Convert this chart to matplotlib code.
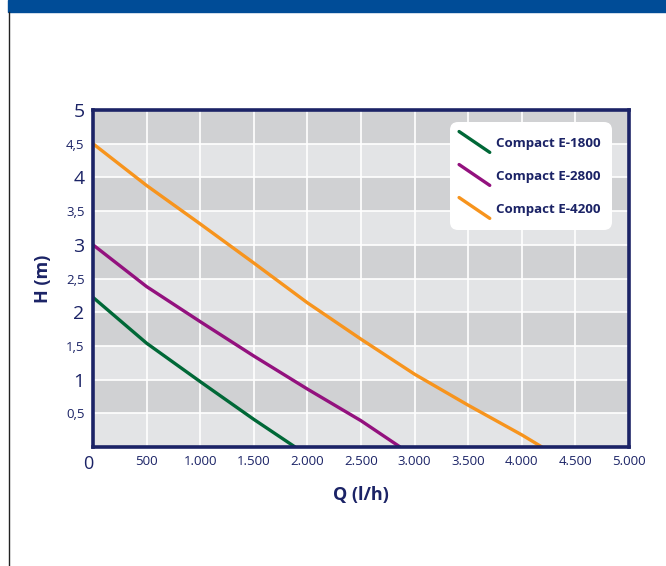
import matplotlib
matplotlib.use("Agg")
import matplotlib.pyplot as plt
from matplotlib.legend_handler import HandlerLine2D
from matplotlib.patches import Rectangle, FancyBboxPatch
from matplotlib.lines import Line2D

plt.rcParams["font.family"] = ["Open Sans", "DejaVu Sans"]

NAVY = "#1b2366"
BLUE_BAR = "#004c97"

# pump curves (Q in l/h, H in m)
q_1800 = [0, 500, 1000, 1500, 1885]
h_1800 = [2.22, 1.54, 0.97, 0.41, 0.0]

q_2800 = [0, 500, 1000, 1500, 2000, 2500, 2865]
h_2800 = [3.0, 2.38, 1.86, 1.35, 0.86, 0.39, 0.0]

q_4200 = [0, 500, 1000, 1500, 2000, 2500, 3000, 3500, 4000, 4188]
h_4200 = [4.5, 3.88, 3.31, 2.73, 2.14, 1.60, 1.08, 0.62, 0.18, 0.0]

labels = ["Compact E-1800", "Compact E-2800", "Compact E-4200"]
colors = ["#006837", "#93117e", "#f7941d"]

x_ticks = [0, 500, 1000, 1500, 2000, 2500, 3000, 3500, 4000, 4500, 5000]
x_tick_labels = ["0", "500", "1.000", "1.500", "2.000", "2.500", "3.000",
                 "3.500", "4.000", "4.500", "5.000"]
y_ticks = [0.5, 1, 1.5, 2, 2.5, 3, 3.5, 4, 4.5, 5]
y_tick_labels = ["0,5", "1", "1,5", "2", "2,5", "3", "3,5", "4", "4,5", "5"]


class DiagonalHandler(HandlerLine2D):
    def create_artists(self, legend, orig_handle, xdescent, ydescent,
                       width, height, fontsize, trans):
        line = Line2D([0, width], [height / 2 + 7.5, height / 2 - 7.5],
                      color=orig_handle.get_color(), lw=orig_handle.get_linewidth(),
                      solid_capstyle="round", transform=trans)
        return [line]


fig = plt.figure(figsize=(6.66, 5.66), dpi=100)

# header bar and left rule
fig.patches.append(Rectangle((8 / 666, 1 - 12 / 566), 1, 12 / 566,
                             transform=fig.transFigure, color=BLUE_BAR))
fig.lines.append(Line2D([8.5 / 666, 8.5 / 666], [0, 1 - 12 / 566],
                        transform=fig.transFigure, color="#222222", lw=1))

ax = fig.add_axes([93 / 666, 1 - 447 / 566, 536 / 666, 337 / 566])
ax.set_xlim(0, 5000)
ax.set_ylim(0, 5)
ax.set_facecolor("#e3e4e6")

# alternating bands
for lo in [0.5, 1.5, 2.5, 3.5, 4.5]:
    ax.axhspan(lo, lo + 0.5, color="#d0d1d3", lw=0, zorder=0)
for y in y_ticks[:-1]:
    ax.axhline(y, color="white", lw=1.2, zorder=1)
for x in x_ticks[1:-1]:
    ax.axvline(x, color="white", lw=1.2, zorder=1)

lines = []
for q, h, lab, col in zip([q_1800, q_2800, q_4200], [h_1800, h_2800, h_4200],
                          labels, colors):
    ln, = ax.plot(q, h, color=col, lw=2.4, label=lab, zorder=3,
                  solid_capstyle="butt", solid_joinstyle="round")
    lines.append(ln)

for s in ax.spines.values():
    s.set_color(NAVY)
    s.set_linewidth(2.6)
    s.set_zorder(5)

ax.set_xticks(x_ticks)
ax.set_xticklabels(x_tick_labels)
ax.set_yticks(y_ticks)
ax.set_yticklabels(y_tick_labels)
ax.tick_params(length=0, colors=NAVY, labelsize=9.5)
ax.tick_params(axis="x", pad=6)
ax.tick_params(axis="y", pad=6)
for t, lab in zip(ax.get_yticklabels(), y_tick_labels):
    if "," not in lab:
        t.set_fontsize(14)
ax.get_xticklabels()[0].set_fontsize(13)
ax.get_xticklabels()[0].set_horizontalalignment("right")

ax.set_xlabel("Q (l/h)", fontsize=13, fontweight="bold", color=NAVY, labelpad=9)
ax.set_ylabel("H (m)", fontsize=13, fontweight="bold", color=NAVY, labelpad=10)

# white rounded legend panel
panel = FancyBboxPatch((4.50, 3.36), 1.62, 1.08, transform=fig.dpi_scale_trans,
                       boxstyle="round,pad=0,rounding_size=0.08",
                       facecolor="white", edgecolor="none", zorder=4, clip_on=False)
ax.add_patch(panel)

leg = ax.legend(handles=lines, loc="upper left", bbox_to_anchor=(0.683, 0.921),
                handler_map={Line2D: DiagonalHandler()}, frameon=False,
                handlelength=2.3, handletextpad=0.5, labelspacing=1.5,
                borderpad=0, borderaxespad=0,
                prop={"weight": "bold", "size": 9.6})
for t in leg.get_texts():
    t.set_color(NAVY)
leg.set_zorder(6)

fig.savefig("out.png", dpi=100)
